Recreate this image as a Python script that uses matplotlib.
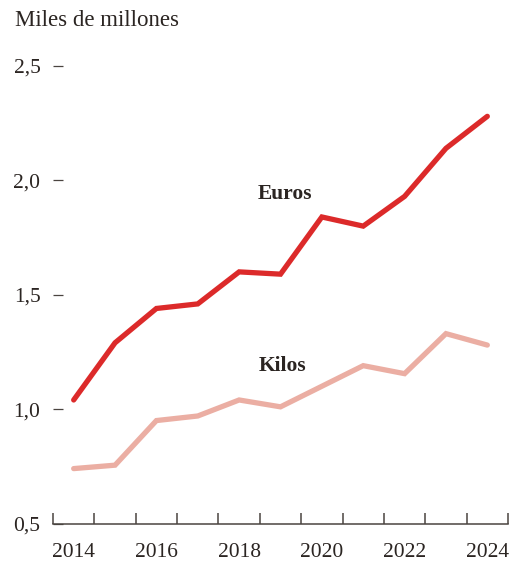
import numpy as np
import matplotlib.pyplot as plt
from matplotlib.ticker import FixedLocator

plt.rcParams['font.family'] = ['Liberation Serif', 'DejaVu Serif']

# datos (miles de millones)
years = [2014, 2015, 2016, 2017, 2018, 2019, 2020, 2021, 2022, 2023, 2024]
euros = [1.04, 1.29, 1.44, 1.46, 1.60, 1.59, 1.84, 1.80, 1.93, 2.14, 2.28]
kilos = [0.74, 0.755, 0.95, 0.97, 1.04, 1.01, 1.10, 1.19, 1.155, 1.33, 1.28]
ytick_vals = [0.5, 1.0, 1.5, 2.0, 2.5]
ytick_labels = ['0,5', '1,0', '1,5', '2,0', '2,5']
xtick_years = [2014, 2016, 2018, 2020, 2022, 2024]

txt = '#2b2522'
axc = '#4a4440'

fig = plt.figure(figsize=(5.1, 5.61), dpi=100)
ax = fig.add_axes([53 / 510, 1 - 523.5 / 561, 455 / 510, 457.5 / 561])

ax.plot(years, kilos, color='#ebaea3', lw=3.8, solid_capstyle='round', solid_joinstyle='miter')
ax.plot(years, euros, color='#dc2a2a', lw=3.8, solid_capstyle='round', solid_joinstyle='miter')

ax.text(2019.1, 1.94, 'Euros', fontsize=15.5, fontweight='bold', color=txt, ha='center', va='center')
ax.text(2019.05, 1.19, 'Kilos', fontsize=15.5, fontweight='bold', color=txt, ha='center', va='center')

ax.set_xlim(2013.5, 2024.5)
ax.set_ylim(0.5, 2.5)

for s in ['top', 'right', 'left']:
    ax.spines[s].set_visible(False)
ax.spines['bottom'].set_color(axc)
ax.spines['bottom'].set_linewidth(1.1)

ax.set_xticks(xtick_years)
ax.set_xticklabels([str(y) for y in xtick_years])
ax.xaxis.set_minor_locator(FixedLocator(np.arange(2013.5, 2025, 1)))
ax.tick_params(axis='x', which='major', length=0, pad=14, labelsize=15.5, labelcolor=txt)
ax.tick_params(axis='x', which='minor', direction='in', length=8, width=1.1, color=axc)

ax.set_yticks(ytick_vals)
ax.set_yticklabels(ytick_labels)
ax.tick_params(axis='y', direction='in', length=7, width=0.9, color=axc, pad=9,
               labelsize=15.5, labelcolor=txt)

fig.text(15 / 510, 1 - 20 / 561, 'Miles de millones', fontsize=16.5, color=txt, ha='left', va='center')

fig.savefig('out.png', dpi=100)
